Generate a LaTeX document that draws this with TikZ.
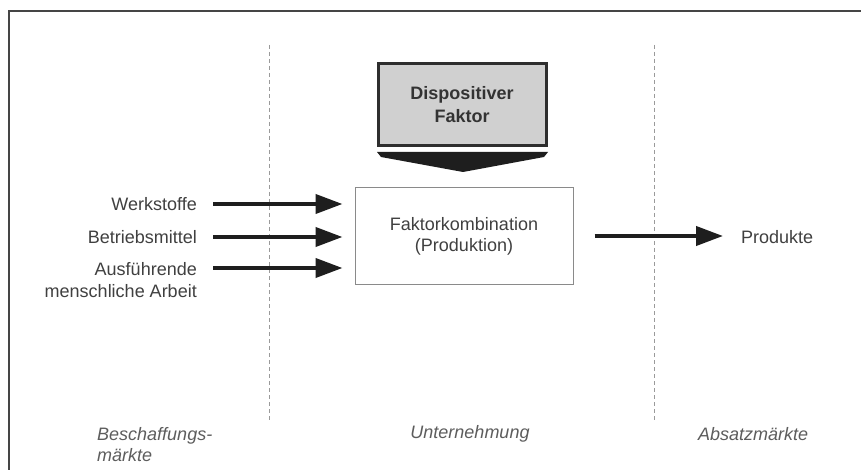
\documentclass[tikz,border=0pt]{standalone}
\usepackage{fontspec}
\setmainfont{Liberation Sans}
\usetikzlibrary{arrows.meta}
\definecolor{txt}{HTML}{404040}
\definecolor{arrowcol}{HTML}{1E1E1E}
\definecolor{dispfill}{HTML}{D0D0D0}
\definecolor{displine}{HTML}{2E2E2E}
\definecolor{fkline}{HTML}{8A8A8A}
\definecolor{sepcol}{HTML}{9A9A9A}
\definecolor{framecol}{HTML}{454545}
\tikzset{
  lbl/.style={font=\fontsize{18}{22}\selectfont, text=txt, inner sep=0pt},
  ital/.style={font=\fontsize{18}{21}\selectfont\itshape, text=txt!85!white, inner sep=0pt},
  dispbox/.style={draw=displine, line width=3pt, fill=dispfill, font=\fontsize{18}{23}\selectfont\bfseries, text=txt!80!black, align=center, minimum width=168pt, minimum height=82pt, inner sep=0pt},
  fkbox/.style={draw=fkline, line width=1pt, fill=white, font=\fontsize{18}{21}\selectfont, text=txt, align=center, minimum width=218pt, minimum height=96pt, inner sep=0pt},
  arr/.style={draw=arrowcol, line width=4pt, -{Triangle[length=27pt,width=19pt]}},
  sep/.style={draw=sepcol, line width=0.8pt, dash pattern=on 4pt off 3pt},
  frame/.style={draw=framecol, line width=2pt}
}
\begin{document}
\begin{tikzpicture}[x=1pt,y=-1pt]
\useasboundingbox (0,0) rectangle (861,470);
\fill[white] (0,0) rectangle (861,470);
\draw[frame] (9,471) -- (9,11) -- (862,11);
% separators
\coordinate (s1t) at (269,45); \coordinate (s1b) at (269,420);
\coordinate (s2t) at (654,45); \coordinate (s2b) at (654,420);
\draw[sep] (s1t) -- (s1b);
\draw[sep] (s2t) -- (s2b);
% dispositiver Faktor
\node[dispbox] (df) at (462,105) {Dispositiver\\Faktor};
\fill[arrowcol] (377,152) -- (548,152) -- (544,157) -- (463,172) -- (381,157) -- cycle;
% Faktorkombination
\node[fkbox] (fk) at (464,236) {Faktorkombination\\(Produktion)};
% inputs
\node[lbl, anchor=east] (w) at (197,204) {Werkstoffe};
\node[lbl, anchor=east] (b) at (197,237) {Betriebsmittel};
\node[lbl, anchor=east, align=right] (a) at (197,280) {Ausführende\\menschliche Arbeit};
\coordinate (a1) at (213,268);
\draw[arr, shorten <=16pt, shorten >=12pt] (w.east) -- (w.east -| fk.west);
\draw[arr, shorten <=16pt, shorten >=12pt] (b.east) -- (b.east -| fk.west);
\draw[arr, shorten >=12pt] (a1) -- (a1 -| fk.west);
% output
\node[lbl, anchor=west] (p) at (741,237) {Produkte};
\draw[arr, shorten <=21pt, shorten >=18pt] (fk.east) -- (fk.east -| p.west);
% bottom labels
\node[ital, anchor=west, align=left] (bm) at (97,445) {Beschaffungs-\\märkte};
\node[ital] (un) at (470,434) {Unternehmung};
\node[ital, anchor=west] (am) at (698,434) {Absatzmärkte};
\end{tikzpicture}
\end{document}
